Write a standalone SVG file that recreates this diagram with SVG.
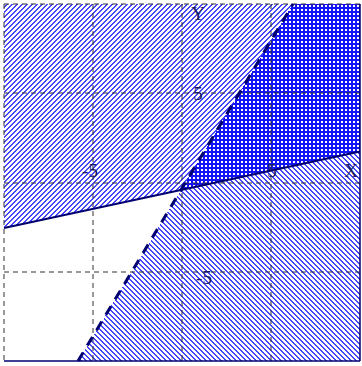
<svg xmlns="http://www.w3.org/2000/svg" width="362" height="366" viewBox="0 0 362 366">
<style>
.grid{stroke:#333;stroke-width:1;stroke-dasharray:5 4;fill:none}
.solid{stroke:#000070;stroke-width:2;fill:none}
.dash{stroke:#000070;stroke-width:3;stroke-dasharray:10 8;fill:none}
.lbl{font-family:"Liberation Serif",serif;font-size:19px;fill:#1a1a60;text-anchor:middle}
.px{fill:#4646ff}
</style>
<defs>
<pattern id="fwd" patternUnits="userSpaceOnUse" width="5" height="5">
<rect width="5" height="5" fill="#fff"/>
<path class="px" d="M0 0h2v1h-2zM0 1h1v1h-1zM4 1h1v1h-1zM3 2h2v1h-2zM2 3h2v1h-2zM1 4h2v1h-2z"/>
</pattern>
<pattern id="bck" patternUnits="userSpaceOnUse" width="5" height="5">
<rect width="5" height="5" fill="#fff"/>
<path class="px" d="M0 0h2v1h-2zM1 1h2v1h-2zM2 2h2v1h-2zM3 3h2v1h-2zM4 4h1v1h-1zM0 4h1v1h-1z"/>
</pattern>
<pattern id="chk" patternUnits="userSpaceOnUse" width="4" height="4">
<rect width="4" height="4" fill="#1414f4"/><rect x="1" y="1" width="2" height="2" fill="#fff"/>
</pattern>
</defs>
<rect width="362" height="366" fill="#fff"/>
<g id="regions" shape-rendering="crispEdges">
<polygon id="regionA" points="4,4 293,4 181,190 4,228" fill="url(#fwd)"/>
<polygon id="regionB" points="78,361 181,190 360,151.6 360,361" fill="url(#bck)"/>
<polygon id="regionAB" points="181,190 293,4 360,4 360,151.6" fill="url(#chk)"/>
</g>
<g id="grid">
<line class="grid" x1="4" y1="4" x2="360" y2="4"/>
<line class="grid" x1="4" y1="4" x2="4" y2="361"/>
<line class="grid" x1="93" y1="4" x2="93" y2="361"/>
<line class="grid" x1="182" y1="4" x2="182" y2="361"/>
<line class="grid" x1="271" y1="4" x2="271" y2="361"/>
<line class="grid" x1="4" y1="93" x2="360" y2="93"/>
<line class="grid" x1="4" y1="183" x2="360" y2="183"/>
<line class="grid" x1="4" y1="272" x2="360" y2="272"/>
<line x1="4" y1="361" x2="360" y2="361" stroke="#000070" stroke-width="1.5"/>
<line x1="360" y1="4" x2="360" y2="361" stroke="#000070" stroke-width="1.5"/>
</g>
<g id="connectors">
<line class="solid" x1="4" y1="228" x2="360" y2="151.6"/>
<line class="dash" x1="78" y1="361" x2="293" y2="4"/>
</g>
<g id="labels">
<text class="lbl" x="198" y="20">Y</text>
<text class="lbl" x="198" y="100">5</text>
<text class="lbl" x="90" y="177">-5</text>
<text class="lbl" x="272" y="177">5</text>
<text class="lbl" x="351" y="177">X</text>
<text class="lbl" x="204" y="284">-5</text>
</g>
</svg>
